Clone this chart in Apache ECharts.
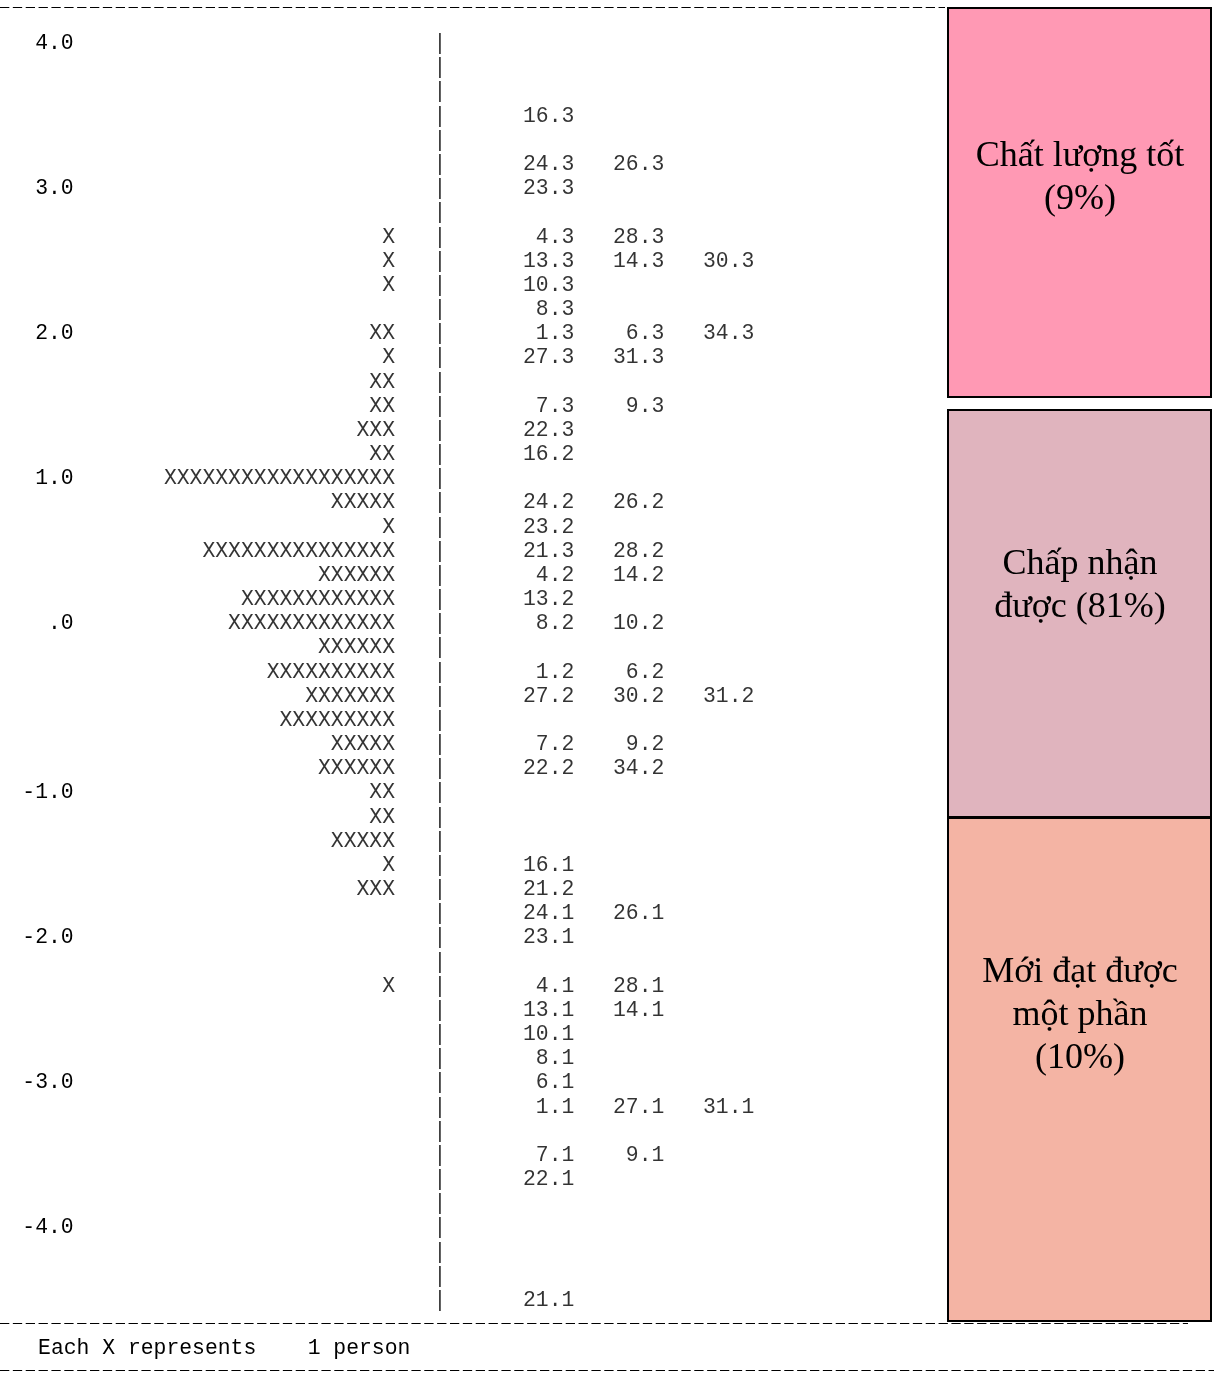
<!DOCTYPE html>
<html>
<head>
<meta charset="utf-8">
<script src="https://cdn.jsdelivr.net/npm/echarts@6/dist/echarts.min.js"></script>
<style>
html,body{margin:0;padding:0;background:#fff;}
#chart{width:1214px;height:1373px;}
</style>
</head>
<body>
<div id="chart"></div>
<script>
// ---- data ----
const rowCount = 53; // text rows of the map, top (row 0) to bottom (row 52)
const tickLabels = ['4.0', '3.0', '2.0', '1.0', '.0', '-1.0', '-2.0', '-3.0', '-4.0'];
const tickRows = [0, 6, 12, 18, 24, 31, 37, 43, 49];

const personRows = [8, 9, 10, 12, 13, 14, 15, 16, 17, 18, 19, 20, 21, 22, 23, 24, 25, 26, 27, 28, 29, 30, 31, 32, 33, 34, 35, 39];
const personCounts = [1, 1, 1, 2, 1, 2, 2, 3, 2, 18, 5, 1, 15, 6, 12, 13, 6, 10, 7, 9, 5, 6, 2, 2, 5, 1, 3, 1];

const itemRows = [3, 5, 6, 8, 9, 10, 11, 12, 13, 15, 16, 17, 19, 20, 21, 22, 23, 24, 26, 27, 29, 30, 34, 35, 36, 37, 39, 40, 41, 42, 43, 44, 46, 47, 52];
const itemLabels = [
  ['16.3'], ['24.3', '26.3'], ['23.3'], ['4.3', '28.3'], ['13.3', '14.3', '30.3'], ['10.3'], ['8.3'],
  ['1.3', '6.3', '34.3'], ['27.3', '31.3'], ['7.3', '9.3'], ['22.3'], ['16.2'], ['24.2', '26.2'], ['23.2'],
  ['21.3', '28.2'], ['4.2', '14.2'], ['13.2'], ['8.2', '10.2'], ['1.2', '6.2'], ['27.2', '30.2', '31.2'],
  ['7.2', '9.2'], ['22.2', '34.2'], ['16.1'], ['21.2'], ['24.1', '26.1'], ['23.1'], ['4.1', '28.1'],
  ['13.1', '14.1'], ['10.1'], ['8.1'], ['6.1'], ['1.1', '27.1', '31.1'], ['7.1', '9.1'], ['22.1'], ['21.1']
];

const bandLabels = ['Chất lượng tốt\n(9%)', 'Chấp nhận\nđược (81%)', 'Mới đạt được\nmột phần\n(10%)'];
const bandColors = ['#FF99B4', '#E0B4BE', '#F4B4A4'];
const footnote = 'Each X represents    1 person';

// ---- layout (character grid) ----
const CW = 12.857;   // column width
const RH = 24.17;    // row height
const TOP = 43.5;
const MONO = "'Liberation Mono', 'Courier New', monospace";
const FS = 21.4;

const personCol = 30.8;                // right edge of person column
const barCol = 34.25;                  // divider '|'
const itemCols = [44.75, 51.75, 58.75]; // right edges of item columns

const personData = personRows.map((r, i) => [personCol, r, personCounts[i]]);
const itemData = [];
itemRows.forEach((r, i) => itemLabels[i].forEach((lab, k) => itemData.push([itemCols[k], r, lab])));
const barData = [];
for (let r = 0; r < rowCount; r++) barData.push([barCol, r]);

const tickMap = {};
tickRows.forEach((r, i) => tickMap[r] = tickLabels[i]);
const cats = [];
for (let r = 0; r < rowCount; r++) cats.push(String(r));

const textLabel = (pos, fmt) => ({
  show: true, position: pos, distance: 0, formatter: fmt,
  fontFamily: MONO, fontSize: FS, color: '#000'
});

const boxes = [
  {y0: 7, y1: 397, ty: 178.5},
  {y0: 409, y1: 817, ty: 586},
  {y0: 817, y1: 1321, ty: 1016}
];

const graphic = [];
// separators
const dash = {stroke: '#000', lineWidth: 1, lineDash: [9.3, 3.557]};
graphic.push({type: 'line', shape: {x1: 0, y1: 7.5, x2: 945, y2: 7.5}, style: dash});
graphic.push({type: 'line', shape: {x1: 0, y1: 1323.5, x2: 1188, y2: 1323.5}, style: dash});
graphic.push({type: 'line', shape: {x1: 0, y1: 1370.5, x2: 1214, y2: 1370.5}, style: dash});
boxes.forEach((b, i) => {
  graphic.push({type: 'rect', shape: {x: 948, y: b.y0 + 1, width: 263, height: b.y1 - b.y0 - 1},
    style: {fill: bandColors[i], stroke: '#000', lineWidth: 2}, z: 10});
  graphic.push({type: 'text', x: 1080, y: b.ty, z: 11,
    style: {text: bandLabels[i], fill: '#000', font: "36px 'Liberation Serif', 'Times New Roman', serif",
      textAlign: 'center', textVerticalAlign: 'middle', lineHeight: 43}});
});
graphic.push({type: 'text', x: 3 * CW - 0.5, y: TOP + 54 * RH, style: {text: footnote, fill: '#000',
  font: FS + "px " + MONO, textAlign: 'left', textVerticalAlign: 'middle'}});

const chart = echarts.init(document.getElementById('chart'), null, {renderer: 'canvas'});
chart.setOption({
  animation: false,
  backgroundColor: '#fff',
  grid: {left: 6 * CW - 0.5, width: 88 * CW, top: TOP, height: (rowCount - 1) * RH},
  xAxis: {type: 'value', min: 6, max: 94, show: false},
  yAxis: {
    type: 'category', data: cats, inverse: true, boundaryGap: false,
    axisLine: {show: false}, axisTick: {show: false}, splitLine: {show: false},
    axisLabel: {interval: 0, margin: 3, formatter: (v, idx) => tickMap[idx] || '',
      fontFamily: MONO, fontSize: FS, color: '#000'}
  },
  series: [
    {type: 'scatter', name: 'divider', data: barData, symbolSize: 1, itemStyle: {color: 'transparent'},
      label: textLabel('inside', () => '|'), silent: true},
    {type: 'scatter', name: 'persons', data: personData, symbolSize: 1, itemStyle: {color: 'transparent'},
      label: textLabel('left', p => 'X'.repeat(p.value[2])), silent: true},
    {type: 'scatter', name: 'items', data: itemData, symbolSize: 1, itemStyle: {color: 'transparent'},
      label: textLabel('left', p => p.value[2]), silent: true}
  ],
  graphic: graphic
});
</script>
</body>
</html>
